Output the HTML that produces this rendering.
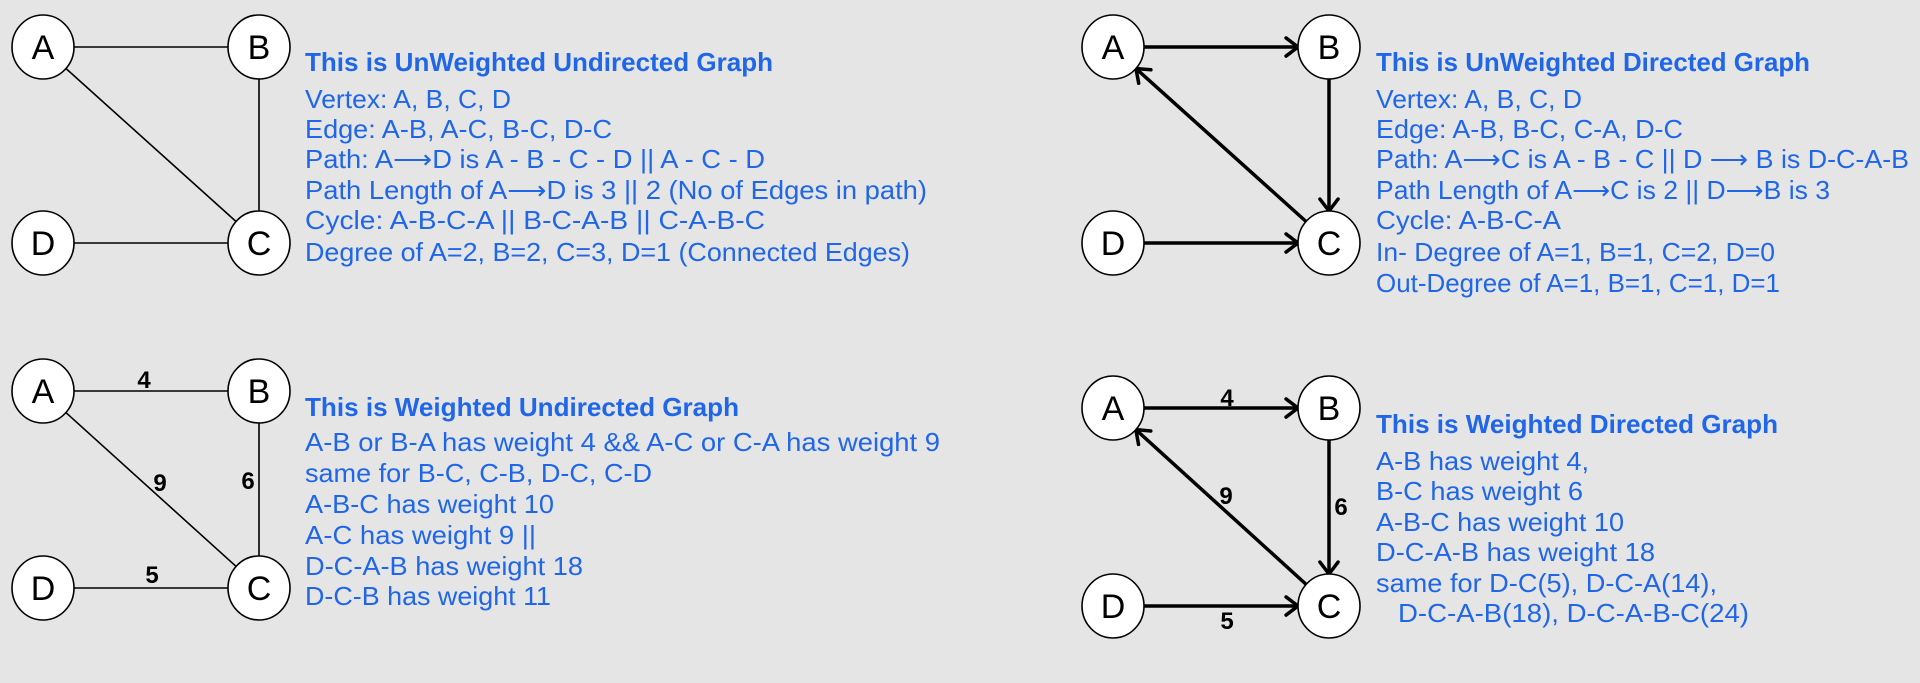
<!DOCTYPE html>
<html><head><meta charset="utf-8"><style>
html,body{margin:0;padding:0;background:#e5e5e5;}
svg{display:block;}
.t{font-family:"Liberation Sans",sans-serif;fill:#1f66e8;font-size:26px;}
.tb{font-weight:bold;}
.nl{font-family:"Liberation Sans",sans-serif;font-size:34px;fill:#000;text-anchor:middle;}
.wl{font-family:"Liberation Sans",sans-serif;font-size:24px;font-weight:bold;fill:#000;text-anchor:middle;}
</style></head><body>
<svg id="s" width="1920" height="683" viewBox="0 0 1920 683" xmlns="http://www.w3.org/2000/svg">
<rect width="1920" height="683" fill="#e5e5e5"/>
<g id="edges"></g><g id="nodes"></g><g id="texts"></g>
</svg>
<script>
const NS="http://www.w3.org/2000/svg";
const graphNames=["unweighted-undirected","unweighted-directed","weighted-undirected","weighted-directed"];
const graphX=[[43,259],[1113,1329],[43,259],[1113,1329]];
const graphY=[[47,243],[47,243],[391,588],[408,606]];
const directed=[false,true,false,true];
const edgeList=[[["A","B"],["A","C"],["B","C"],["D","C"]],[["A","B"],["B","C"],["C","A"],["D","C"]],[["A","B"],["A","C"],["B","C"],["D","C"]],[["A","B"],["B","C"],["C","A"],["D","C"]]];
const weights=[null,null,[4,9,6,5],[4,6,9,5]];
const weightPos=[null,null,[[144,388],[160,491],[248,489],[152,583]],[[1227,406],[1341,515],[1226,504],[1227,629]]];
const texts=[
 {x:305,y:[62,99,129,159,190,220,252],w:[468,206,307,460,622,460,605],s:["This is UnWeighted Undirected Graph","Vertex: A, B, C, D","Edge: A-B, A-C, B-C, D-C","Path: A\u27F6D is A - B - C - D || A - C - D","Path Length of A\u27F6D is 3 || 2  (No of Edges in path)","Cycle: A-B-C-A || B-C-A-B || C-A-B-C","Degree of A=2, B=2, C=3, D=1 (Connected Edges)"]},
 {x:1376,y:[62,99,129,159,190,220,252,283],w:[434,206,307,533,454,185,399,404],s:["This is UnWeighted Directed Graph","Vertex: A, B, C, D","Edge: A-B, B-C, C-A, D-C","Path: A\u27F6C is A - B - C || D \u27F6 B is D-C-A-B","Path Length of A\u27F6C is 2 || D\u27F6B is 3","Cycle: A-B-C-A","In- Degree of A=1, B=1, C=2, D=0","Out-Degree of A=1, B=1, C=1, D=1"]},
 {x:305,y:[407,442,473,504,535,566,596],w:[434,635,347,249,231,278,246],s:["This is Weighted Undirected Graph","A-B or B-A has weight 4 && A-C or C-A has weight 9","same for B-C, C-B, D-C, C-D","A-B-C has weight 10","A-C has weight 9 ||","D-C-A-B has weight 18","D-C-B has weight 11"]},
 {x:1376,y:[424,461,491,522,552,583,613],w:[402,213,207,248,279,341,351],s:["This is Weighted Directed Graph","A-B has weight 4,","B-C has weight 6","A-B-C has weight 10","D-C-A-B has weight 18","same for D-C(5), D-C-A(14),","D-C-A-B(18), D-C-A-B-C(24)"]}
];
const textIndent=[[],[],[],[0,0,0,0,0,0,22]];
const E=document.getElementById('edges'),N=document.getElementById('nodes'),T=document.getElementById('texts');
function mk(t,a){const e=document.createElementNS(NS,t);for(const k in a)e.setAttribute(k,a[k]);return e;}
const RX=31,RY=32;
for(let g=0;g<4;g++){
 const [x0,x1]=graphX[g],[y0,y1]=graphY[g];
 const pos={A:[x0,y0],B:[x1,y0],C:[x1,y1],D:[x0,y1]};
 const sw=directed[g]?3.5:1.6;
 edgeList[g].forEach((ed,i)=>{
  const p=pos[ed[0]],q=pos[ed[1]];
  const dx=q[0]-p[0],dy=q[1]-p[1],L=Math.hypot(dx,dy),ux=dx/L,uy=dy/L;
  const sx=p[0]+ux*RX,sy=p[1]+uy*RY,ex=q[0]-ux*RX,ey=q[1]-uy*RY;
  const ln=mk('line',{x1:sx,y1:sy,x2:ex,y2:ey,stroke:'#000','stroke-width':sw});
  
  
  E.appendChild(ln);
  if(directed[g]){
   const a=Math.atan2(uy,ux),h=15,sp=0.65;
   const pts=[[ex-h*Math.cos(a-sp),ey-h*Math.sin(a-sp)],[ex,ey],[ex-h*Math.cos(a+sp),ey-h*Math.sin(a+sp)]];
   const ah=mk('polyline',{points:pts.map(p=>p.join(',')).join(' '),fill:'none',stroke:'#000','stroke-width':3.5,'stroke-linecap':'round','stroke-linejoin':'round'});
   
   
   E.appendChild(ah);
  }
  if(weights[g]){
   const wl=mk('text',{x:weightPos[g][i][0],y:weightPos[g][i][1],class:'wl'});
   wl.textContent=weights[g][i];
   
   
   E.appendChild(wl);
  }
 });
 for(const k of ["A","B","C","D"]){
  const grp=mk('g',{});
  
  
  grp.appendChild(mk('ellipse',{cx:pos[k][0],cy:pos[k][1],rx:RX,ry:RY,fill:'#fff',stroke:'#000','stroke-width':1.6}));
  const tx=mk('text',{x:pos[k][0],y:pos[k][1]+12,class:'nl'});tx.textContent=k;grp.appendChild(tx);
  N.appendChild(grp);
 }
 const td=texts[g];
 td.s.forEach((s,i)=>{
  const ind=(textIndent[g][i]||0);
  const t=mk('text',{x:td.x+ind,y:td.y[i]+9,class:i===0?'t tb':'t',textLength:td.w[i],lengthAdjust:'spacingAndGlyphs'});
  t.textContent=s;
  
  
  T.appendChild(t);
 });
}
</script>
</body></html>
